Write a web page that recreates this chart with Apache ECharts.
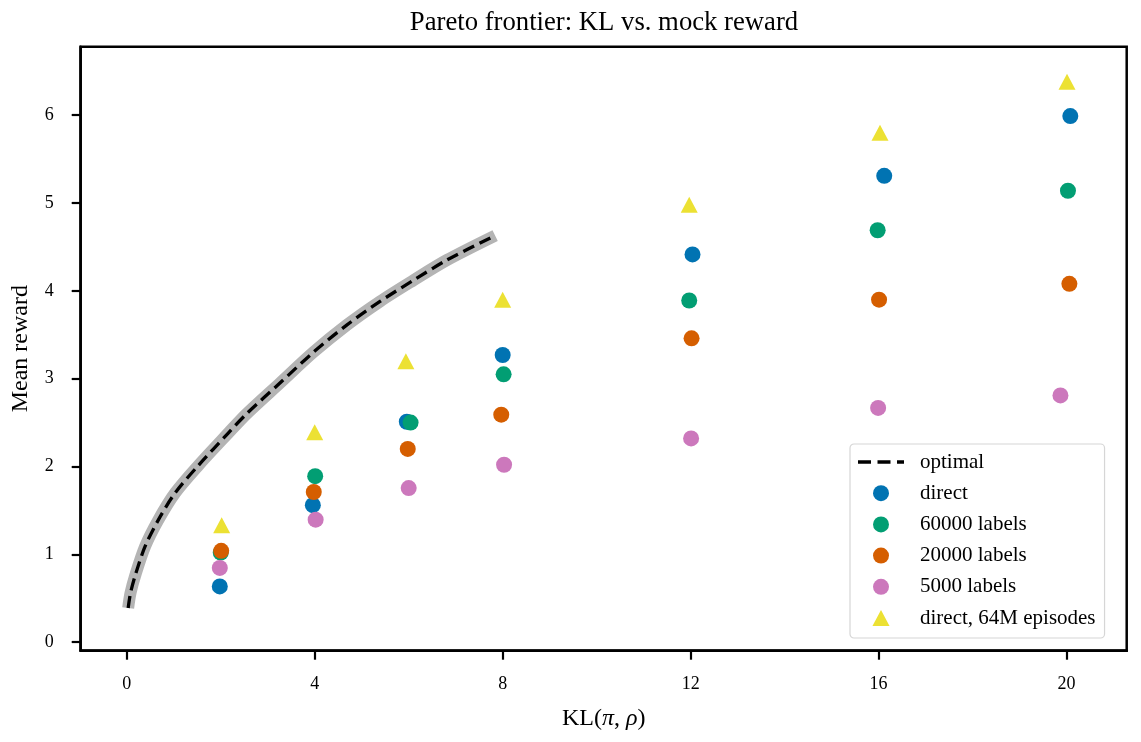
<!DOCTYPE html>
<html><head><meta charset="utf-8">
<script src="https://cdn.jsdelivr.net/npm/echarts@6/dist/echarts.min.js"></script>
<style>html,body{margin:0;padding:0;background:#fff}#c{width:1141px;height:742px}</style>
</head><body><div id="c"></div>
<script>
// ---- data ----
const xTicks = [0, 4, 8, 12, 16, 20];
const yTicks = [0, 1, 2, 3, 4, 5, 6];

const optimalX = [0.03, 0.08, 0.18, 0.39, 0.67, 1.03, 1.52, 2.16, 2.55, 3.26, 3.97, 4.68, 5.39, 6.10, 6.81, 7.84];
const optimalY = [0.39, 0.56, 0.76, 1.09, 1.39, 1.70, 2.01, 2.38, 2.60, 2.95, 3.30, 3.61, 3.88, 4.12, 4.35, 4.63];

const directX = [1.98, 3.96, 5.96, 8.00, 12.04, 16.12, 20.08];
const directY = [0.635, 1.56, 2.51, 3.27, 4.415, 5.31, 5.99];

const l60000X = [2.00, 4.01, 6.04, 8.02, 11.97, 15.98, 20.03];
const l60000Y = [1.02, 1.89, 2.50, 3.05, 3.89, 4.69, 5.14];

const l20000X = [2.01, 3.98, 5.98, 7.97, 12.02, 16.01, 20.06];
const l20000Y = [1.04, 1.71, 2.20, 2.59, 3.46, 3.90, 4.08];

const l5000X = [1.98, 4.02, 6.00, 8.03, 12.01, 15.99, 19.87];
const l5000Y = [0.845, 1.395, 1.755, 2.02, 2.32, 2.667, 2.81];

const ep64X = [2.02, 4.00, 5.94, 8.00, 11.97, 16.03, 20.01];
const ep64Y = [1.33, 2.39, 3.20, 3.90, 4.98, 5.80, 6.38];

const names = ['optimal', 'direct', '60000 labels', '20000 labels', '5000 labels', 'direct, 64M episodes'];
const colors = ['#000000', '#0173B2', '#029E73', '#D55E00', '#CC78BC', '#ECE133'];

// ---- build ----
const zip = (xs, ys) => xs.map((x, i) => [x, ys[i]]);
const FONT = 'Liberation Serif, Times New Roman, serif';

const scatter = (name, xs, ys, color, symbol, size) => ({
  name, type: 'scatter', data: zip(xs, ys), symbol, symbolSize: size,
  itemStyle: { color, opacity: 1 }, z: 5, silent: true
});

const chart = echarts.init(document.getElementById('c'), null, { renderer: 'canvas' });
chart.setOption({
  animation: false,
  backgroundColor: '#fff',
  title: {
    text: 'Pareto frontier: KL vs. mock reward',
    left: 604, top: 9, textAlign: 'center', padding: 0,
    textStyle: { fontFamily: FONT, fontSize: 26.7, fontWeight: 'normal', color: '#000' }
  },
  grid: {
    left: 80.7, right: 14.3, top: 46.7, bottom: 91.3,
    show: true, borderColor: '#000', borderWidth: 2.5, backgroundColor: 'transparent'
  },
  xAxis: {
    type: 'value', min: -0.98, max: 21.28,
    name: 'KL({i|π}, {i|ρ})', nameLocation: 'middle', nameGap: 56,
    nameTextStyle: { fontFamily: FONT, fontSize: 24, color: '#000',
      rich: { i: { fontFamily: FONT, fontSize: 24, fontStyle: 'italic', color: '#000' } } },
    axisLine: { show: true, onZero: false, lineStyle: { color: '#000', width: 2.5 } },
    axisTick: { show: true, length: 9, lineStyle: { color: '#000', width: 2.2 }, customValues: xTicks },
    axisLabel: { fontFamily: FONT, fontSize: 18, color: '#000', margin: 25, customValues: xTicks },
    splitLine: { show: false }
  },
  yAxis: {
    type: 'value', min: -0.097, max: 6.78,
    name: 'Mean reward', nameLocation: 'middle', nameGap: 48,
    nameTextStyle: { fontFamily: FONT, fontSize: 24, color: '#000' },
    axisLine: { show: true, onZero: false, lineStyle: { color: '#000', width: 2.5 } },
    axisTick: { show: true, length: 9, lineStyle: { color: '#000', width: 2.2 }, customValues: yTicks },
    axisLabel: { fontFamily: FONT, fontSize: 18, color: '#000', margin: 27, customValues: yTicks },
    splitLine: { show: false }
  },
  legend: {
    orient: 'vertical', left: 850, top: 444,
    padding: [7, 9, 9, 8], itemGap: 9.2, itemWidth: 46, itemHeight: 16,
    symbolKeepAspect: true,
    backgroundColor: 'rgba(255,255,255,0.85)', borderColor: '#d6d6d6', borderWidth: 1.2, borderRadius: 4,
    textStyle: { fontFamily: FONT, fontSize: 21, color: '#000', lineHeight: 22, padding: [0, 0, 0, 11] },
    selectedMode: false,
    data: [
      { name: names[0], icon: 'path://M0,0h13v3.3h-13z M19.5,0h13v3.3h-13z M39,0h7v3.3h-7z', itemStyle: { color: '#000' } },
      { name: names[1], icon: 'circle' },
      { name: names[2], icon: 'circle' },
      { name: names[3], icon: 'circle' },
      { name: names[4], icon: 'circle' },
      { name: names[5], icon: 'path://M8,0L16,15L0,15z', symbolKeepAspect: true }
    ]
  },
  series: [
    { name: 'band', type: 'line', data: zip(optimalX, optimalY), symbol: 'none',
      smooth: 0.3, silent: true, z: 1,
      lineStyle: { color: '#b4b4b4', width: 12, cap: 'butt', join: 'round' } },
    { name: names[0], type: 'line', data: zip(optimalX, optimalY), symbol: 'none',
      smooth: 0.3, silent: true, z: 2,
      itemStyle: { color: '#000' },
      lineStyle: { color: '#000', width: 3.3, type: [12, 6], join: 'round' } },
    scatter(names[1], directX, directY, colors[1], 'circle', 16),
    scatter(names[2], l60000X, l60000Y, colors[2], 'circle', 16),
    scatter(names[3], l20000X, l20000Y, colors[3], 'circle', 16),
    scatter(names[4], l5000X, l5000Y, colors[4], 'circle', 16),
    scatter(names[5], ep64X, ep64Y, colors[5], 'triangle', [17, 16])
  ]
});
</script>
</body></html>
